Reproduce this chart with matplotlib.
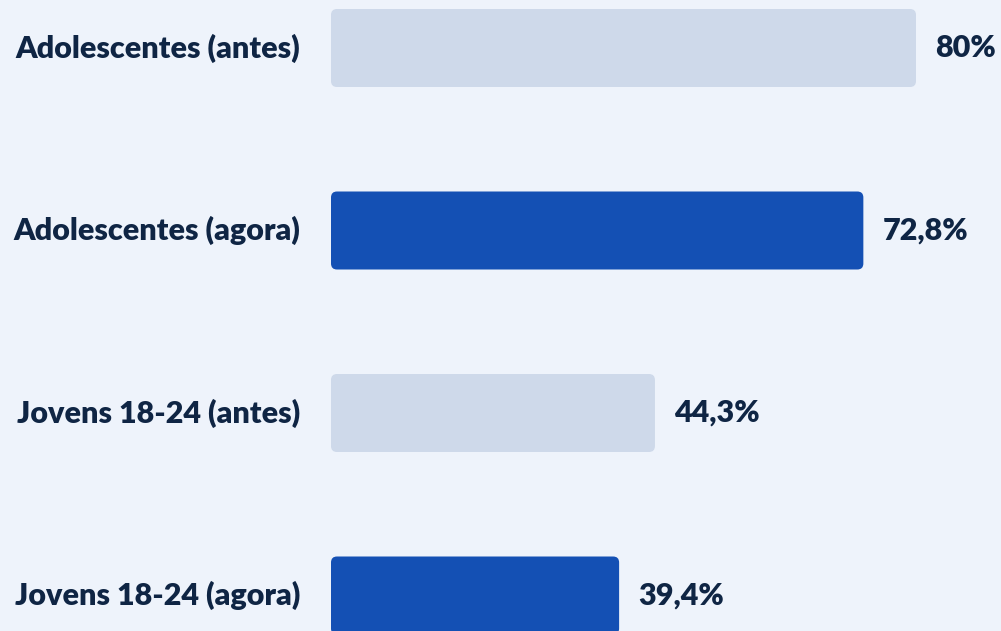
import matplotlib
matplotlib.use("Agg")
import matplotlib.pyplot as plt
from matplotlib.patches import FancyBboxPatch

categories = ["Adolescentes (antes)", "Adolescentes (agora)",
              "Jovens 18-24 (antes)", "Jovens 18-24 (agora)"]
values = [80.0, 72.8, 44.3, 39.4]
value_labels = ["80%", "72,8%", "44,3%", "39,4%"]
is_now = [False, True, False, True]

bg = "#EEF3FB"
light = "#CED9EA"
dark = "#1450B4"
ink = "#0F2544"

W, H = 1001, 631
px_per_unit = 7.3125
x0_px = 331
spacing_px = 182.5
first_center_px = 48
bar_h = 78 / spacing_px

fig = plt.figure(figsize=(W / 100, H / 100), dpi=100)
fig.patch.set_facecolor(bg)
ax = fig.add_axes([0, 0, 1, 1])
ax.set_facecolor(bg)
ax.set_xlim(-x0_px / px_per_unit, (W - x0_px) / px_per_unit)
ax.set_ylim((H - first_center_px) / spacing_px, -first_center_px / spacing_px)
ax.axis("off")

r_x = 6 / px_per_unit
r_y = 6 / spacing_px
for i, (cat, v, lab, now) in enumerate(zip(categories, values, value_labels, is_now)):
    patch = FancyBboxPatch((0, i - bar_h / 2), v, bar_h,
                           boxstyle="round,pad=0,rounding_size=%f" % r_x,
                           mutation_aspect=r_y / r_x,
                           facecolor=dark if now else light, edgecolor="none")
    ax.add_patch(patch)
    ax.annotate(cat, (0, i), xytext=(-31 * 0.72, 0), textcoords="offset points",
                ha="right", va="center", fontsize=22, fontweight="heavy",
                family="Lato", color=ink)
    ax.annotate(lab, (v, i), xytext=(19 * 0.72, 0), textcoords="offset points",
                ha="left", va="center", fontsize=22, fontweight="heavy",
                family="Lato", color=ink)

fig.savefig("out.png", dpi=100, facecolor=bg)
